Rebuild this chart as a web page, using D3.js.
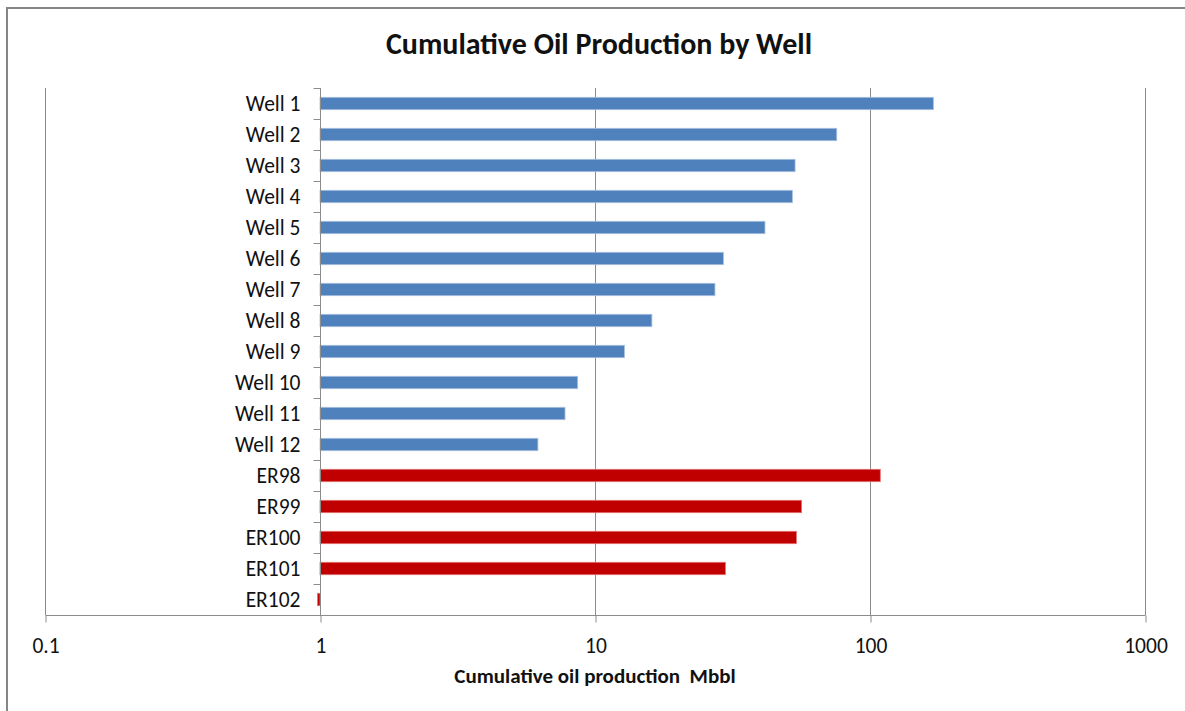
<!DOCTYPE html>
<html>
<head>
<meta charset="utf-8">
<script src="https://cdn.jsdelivr.net/npm/d3@7"></script>
<style>
  html, body { margin: 0; padding: 0; background: #fff; }
  svg { display: block; }
  text { font-family: Carlito, Calibri, Lato, "Open Sans", sans-serif; fill: #111; }
</style>
</head>
<body>
<svg id="chart" width="1185" height="711"></svg>
<script>
// Wells and their cumulative oil production (Mbbl)
const wells = ["Well 1", "Well 2", "Well 3", "Well 4", "Well 5", "Well 6", "Well 7", "Well 8",
               "Well 9", "Well 10", "Well 11", "Well 12", "ER98", "ER99", "ER100", "ER101", "ER102"];
const production = [170, 75.7, 53.4, 52.2, 41.5, 29.3, 27.3, 16.1,
                    12.8, 8.65, 7.78, 6.2, 109, 56.4, 54, 29.8, 0.98];
const group = ["base", "base", "base", "base", "base", "base", "base", "base",
               "base", "base", "base", "base", "er", "er", "er", "er", "er"];
const xTicks = [0.1, 1, 10, 100, 1000];
const xTickLabels = ["0.1", "1", "10", "100", "1000"];

const title = "Cumulative Oil Production by Well";
const xTitle = "Cumulative oil production  Mbbl";

const fill = { base: "#4F81BD", er: "#C00000" };
const edge = { base: "#a9c1e0", er: "#e57373" };

const svg = d3.select("#chart");
const plot = { left: 45, right: 1145, top: 88, bottom: 615 };
const baseValue = 1; // category axis crosses the value axis at 1

// outer frame
svg.append("rect")
  .attr("x", 7).attr("y", 8)
  .attr("width", 1200).attr("height", 720)
  .attr("fill", "none").attr("stroke", "#868686").attr("stroke-width", 2);

const x = d3.scaleLog().domain([0.1, 1000]).range([plot.left, plot.right]);
const y = d3.scaleBand().domain(wells).range([plot.top, plot.bottom])
  .paddingInner(0.6).paddingOuter(0.3);

// vertical gridlines
svg.append("g").selectAll("line").data(xTicks).join("line")
  .attr("x1", d => Math.round(x(d)) + 0.5).attr("x2", d => Math.round(x(d)) + 0.5)
  .attr("y1", plot.top).attr("y2", plot.bottom)
  .attr("stroke", "#8c8c8c").attr("stroke-width", 1);

// bars, drawn from the axis crossing value
const data = wells.map((w, i) => ({ name: w, value: production[i], group: group[i] }));
svg.append("g").selectAll("rect").data(data).join("rect")
  .attr("x", d => Math.min(x(d.value), x(baseValue)))
  .attr("width", d => Math.max(1, Math.abs(x(d.value) - x(baseValue))))
  .attr("y", d => y(d.name))
  .attr("height", y.bandwidth())
  .attr("fill", d => fill[d.group])
  .attr("stroke", d => edge[d.group])
  .attr("stroke-width", 0.8);

// value axis along the bottom
const xAxis = d3.axisBottom(x).tickValues(xTicks)
  .tickFormat((d, i) => xTickLabels[i]).tickSize(7).tickPadding(14);
const gx = svg.append("g").attr("transform", `translate(0.5,${plot.bottom + 0.5})`).call(xAxis);
gx.select(".domain").attr("stroke", "#8c8c8c").attr("d", `M${plot.left},0H${plot.right}`);
gx.selectAll(".tick line").attr("stroke", "#8c8c8c");
gx.selectAll(".tick text").attr("font-size", 21.5).attr("fill", "#111")
  .attr("y", 37).attr("dy", 0)
  .style("font-family", "Carlito, Calibri, Lato, sans-serif");

// category axis at value 1
const cx = Math.round(x(baseValue)) + 0.5;
svg.append("line").attr("x1", cx).attr("x2", cx)
  .attr("y1", plot.top).attr("y2", plot.bottom)
  .attr("stroke", "#8c8c8c");
const step = y.step();
svg.append("g").selectAll("line").data(d3.range(wells.length + 1)).join("line")
  .attr("x1", cx - 7).attr("x2", cx)
  .attr("y1", i => Math.round(plot.top + i * step) + 0.5)
  .attr("y2", i => Math.round(plot.top + i * step) + 0.5)
  .attr("stroke", "#8c8c8c");
svg.append("g").selectAll("text").data(wells).join("text")
  .attr("x", cx - 20)
  .attr("y", d => y(d) + y.bandwidth() / 2)
  .attr("dy", "0.35em")
  .attr("text-anchor", "end")
  .attr("font-size", 21.5)
  .text(d => d);

// titles
svg.append("text")
  .attr("x", 599).attr("y", 54)
  .attr("text-anchor", "middle")
  .attr("font-size", 30).attr("font-weight", "bold")
  .text(title);
svg.append("text")
  .attr("x", (plot.left + plot.right) / 2).attr("y", 683)
  .attr("text-anchor", "middle")
  .attr("font-size", 21).attr("font-weight", "bold")
  .style("white-space", "pre")
  .text(xTitle);
</script>
</body>
</html>
